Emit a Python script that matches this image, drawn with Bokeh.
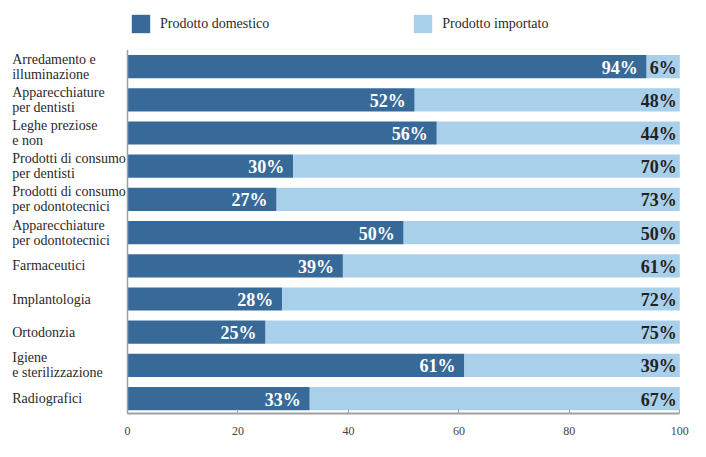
from bokeh.plotting import figure
from bokeh.models import ColumnDataSource, Range1d, LinearAxis, FixedTicker, Legend, LegendItem
from bokeh.core.properties import value
from bokeh.embed import file_html
from bokeh.resources import INLINE

categories = [
    "Arredamento e\nilluminazione",
    "Apparecchiature\nper dentisti",
    "Leghe preziose\ne non",
    "Prodotti di consumo\nper dentisti",
    "Prodotti di consumo\nper odontotecnici",
    "Apparecchiature\nper odontotecnici",
    "Farmaceutici",
    "Implantologia",
    "Ortodonzia",
    "Igiene\ne sterilizzazione",
    "Radiografici",
]
domestic = [94, 52, 56, 30, 27, 50, 39, 28, 25, 61, 33]
imported = [6, 48, 44, 70, 73, 50, 61, 72, 75, 39, 67]
x_ticks = [0, 20, 40, 60, 80, 100]
series_names = ["Prodotto domestico", "Prodotto importato"]

DARK = "#386a99"
LIGHT = "#a9d0ea"
SERIF = "Liberation Serif"
SERIF_ALIAS = "Times New Roman"

rows = list(range(len(categories)))
src = ColumnDataSource(dict(
    y=rows,
    cat=categories,
    dom=domestic,
    imp=imported,
    total=[d + i for d, i in zip(domestic, imported)],
    zero=[0] * len(rows),
    label_x=[-20.87] * len(rows),
    dom_lbl=[f"{d}%" for d in domestic],
    imp_lbl=[f"{i}%" for i in imported],
))

x0_px, x100_px, fig_w = 127.0, 679.3, 690
px_per_unit = (x100_px - x0_px) / 100
x_start = -x0_px / px_per_unit
x_end = 100 + (fig_w - x100_px) / px_per_unit
pitch = 33.2
frame_h = 413
y_top = -66.1 / pitch
y_bottom = y_top + frame_h / pitch

p = figure(
    frame_width=fig_w, frame_height=frame_h,
    x_range=Range1d(x_start, x_end),
    y_range=Range1d(y_bottom, y_top),
    output_backend="svg", toolbar_location=None,
    x_axis_location=None, y_axis_location=None,
    min_border_left=0, min_border_right=0, min_border_top=0, min_border_bottom=28,
)
p.outline_line_color = None
p.xgrid.visible = False
p.ygrid.visible = False

r_dom = p.hbar(y="y", left="zero", right="dom", height=0.70, source=src,
               fill_color=DARK, line_color=None)
r_imp = p.hbar(y="y", left="dom", right="total", height=0.70, source=src,
               fill_color=LIGHT, line_color=None)

p.segment(x0=0, x1=0, y0=-0.5, y1=len(rows) - 0.5, line_color="#a0a0a0", line_width=1.5)

p.text(x="label_x", y="y", text="cat", source=src, text_align="left",
       text_baseline="middle", text_font=value(SERIF), text_font_style="normal",
       text_font_size="14px", text_color="#2a2a2a", text_line_height=1.0)

p.text(x="dom", y="y", text="dom_lbl", source=src, text_align="right",
       text_baseline="middle", x_offset=-9, y_offset=1, text_font=value(SERIF),
       text_font_size="18px", text_font_style="bold", text_color="white")
p.text(x="total", y="y", text="imp_lbl", source=src, text_align="right",
       text_baseline="middle", x_offset=-3, y_offset=1, text_font=value(SERIF),
       text_font_size="18px", text_font_style="bold", text_color="#222222")

xaxis = LinearAxis(
    ticker=FixedTicker(ticks=x_ticks), bounds=(0, 100),
    axis_line_color="#a0a0a0", axis_line_width=2,
    major_tick_line_color="#a0a0a0", major_tick_in=4, major_tick_out=0,
    minor_tick_line_color=None,
    major_label_text_font=SERIF_ALIAS, major_label_text_font_size="12px",
    major_label_text_color="#444444", major_label_standoff=13,
)
p.add_layout(xaxis, "below")

legend = Legend(
    items=[LegendItem(label=series_names[0], renderers=[r_dom]),
           LegendItem(label=series_names[1], renderers=[r_imp])],
    orientation="horizontal", location=(129, 378),
    glyph_width=23, glyph_height=23, label_standoff=8, spacing=142,
    padding=0, margin=0, border_line_color=None, background_fill_alpha=0,
    label_text_font=SERIF_ALIAS, label_text_font_size="14px", label_text_color="#2a2a2a",
    label_height=23,
)
p.add_layout(legend, "center")

open("out.html", "w").write(file_html(p, INLINE))
